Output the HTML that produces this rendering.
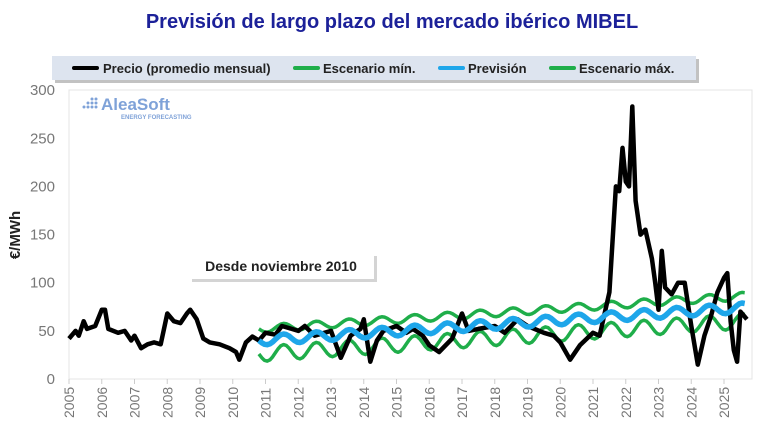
<!DOCTYPE html>
<html><head><meta charset="utf-8"><style>
body{margin:0;background:#fff;width:768px;height:421px;overflow:hidden;font-family:"Liberation Sans",sans-serif}
</style></head><body>
<svg id="s" width="768" height="421" xmlns="http://www.w3.org/2000/svg" font-family="Liberation Sans, sans-serif">
<text x="392" y="28" text-anchor="middle" font-size="20" font-weight="bold" fill="#1c2199">Previsión de largo plazo del mercado ibérico MIBEL</text>
<rect x="55" y="59" width="644" height="24" fill="#9a9a9a" opacity="0.6"/>
<rect x="52" y="56" width="644" height="24" fill="#dde4ef"/>
<g font-size="13" font-weight="bold" fill="#222">
<line x1="74" y1="68" x2="97" y2="68" stroke="#000" stroke-width="4" stroke-linecap="round"/><text x="103" y="73">Precio (promedio mensual)</text>
<line x1="295" y1="68" x2="318" y2="68" stroke="#1fae4a" stroke-width="4" stroke-linecap="round"/><text x="323" y="73">Escenario mín.</text>
<line x1="440" y1="68" x2="463" y2="68" stroke="#1ea6ea" stroke-width="4" stroke-linecap="round"/><text x="468" y="73">Previsión</text>
<line x1="551" y1="68" x2="574" y2="68" stroke="#1fae4a" stroke-width="4" stroke-linecap="round"/><text x="579" y="73">Escenario máx.</text>
</g>
<rect x="69" y="90" width="683" height="289" fill="none" stroke="#e4e4e4"/>
<g font-size="15" fill="#777" text-anchor="end" id="yt"></g>
<g font-size="14" fill="#777" id="xt"></g>
<text transform="translate(20,235) rotate(-90)" text-anchor="middle" font-size="15" font-weight="bold" fill="#222">€/MWh</text>
<g fill="#7fa2d8"><circle cx="84" cy="107" r="1.5"/><circle cx="88" cy="107" r="1.5"/><circle cx="92" cy="107" r="1.5"/><circle cx="88" cy="103" r="1.5"/><circle cx="92" cy="103" r="1.5"/><circle cx="92" cy="99" r="1.5"/><circle cx="96" cy="99" r="1.5"/><circle cx="96" cy="103" r="1.5"/><circle cx="96" cy="107" r="1.5"/></g>
<text x="101" y="110" font-size="17" font-weight="bold" fill="#7fa2d8">AleaSoft</text>
<text x="121" y="119" font-size="6" font-weight="bold" fill="#7fa2d8">ENERGY FORECASTING</text>
<g id="series"></g>
<rect x="192" y="256" width="185" height="26" fill="#aaa" opacity="0.5"/>
<rect x="189" y="253" width="185" height="26" fill="#fff"/>
<text x="281" y="271" text-anchor="middle" font-size="14" font-weight="bold" fill="#222">Desde noviembre 2010</text>
</svg>
<script>
const X=t=>69+(t-2005)*32.75, Y=v=>379-v*0.963;
const NS="http://www.w3.org/2000/svg";
const yt=document.getElementById('yt');
for(let v=0;v<=300;v+=50){const e=document.createElementNS(NS,'text');e.setAttribute('x',55);e.setAttribute('y',Y(v)+5);e.textContent=v;yt.appendChild(e);}
const xt=document.getElementById('xt');
for(let y=2005;y<=2025;y++){const x=X(y);const e=document.createElementNS(NS,'text');e.setAttribute('transform',`translate(${x+5},418) rotate(-90)`);e.textContent=y;xt.appendChild(e);
const l=document.createElementNS(NS,'line');l.setAttribute('x1',x);l.setAttribute('x2',x);l.setAttribute('y1',379);l.setAttribute('y2',384);l.setAttribute('stroke','#ccc');xt.appendChild(l);}
const P=[[2005,42],[2005.2,50],[2005.3,45],[2005.45,60],[2005.55,52],[2005.8,55],[2006,72],[2006.1,72],[2006.2,52],[2006.5,48],[2006.7,50],[2006.9,40],[2007,45],[2007.2,32],[2007.4,36],[2007.6,38],[2007.8,36],[2008,68],[2008.2,60],[2008.4,58],[2008.6,68],[2008.7,72],[2008.9,62],[2009.1,42],[2009.3,38],[2009.6,36],[2009.9,32],[2010.1,28],[2010.2,20],[2010.4,38],[2010.6,44],[2010.8,40],[2011,48],[2011.3,46],[2011.5,55],[2011.8,52],[2012,50],[2012.2,55],[2012.5,45],[2012.8,48],[2013,50],[2013.3,22],[2013.6,45],[2013.9,52],[2014,62],[2014.2,18],[2014.4,40],[2014.6,50],[2015,55],[2015.3,48],[2015.5,52],[2015.8,45],[2016,35],[2016.3,28],[2016.7,42],[2017,68],[2017.2,50],[2017.5,52],[2018,55],[2018.3,48],[2018.7,62],[2019,55],[2019.5,48],[2019.8,45],[2020,38],[2020.3,20],[2020.6,35],[2021,48],[2021.2,45],[2021.5,90],[2021.7,200],[2021.8,195],[2021.9,240],[2022,205],[2022.1,200],[2022.2,283],[2022.3,185],[2022.45,150],[2022.6,155],[2022.8,125],[2022.9,100],[2023,72],[2023.1,133],[2023.2,95],[2023.4,88],[2023.6,100],[2023.8,100],[2024,55],[2024.2,15],[2024.4,45],[2024.6,65],[2024.8,90],[2025,105],[2025.1,110],[2025.2,60],[2025.3,30],[2025.4,18],[2025.5,70],[2025.7,62]];
function line(pts,col,w){const p=document.createElementNS(NS,'polyline');p.setAttribute('points',pts.map(q=>X(q[0]).toFixed(1)+','+Y(q[1]).toFixed(1)).join(' '));p.setAttribute('fill','none');p.setAttribute('stroke',col);p.setAttribute('stroke-width',w);p.setAttribute('stroke-linejoin','round');document.getElementById('series').appendChild(p);}
const f=[],mn=[],mx=[];
for(let t=2010.8;t<=2025.7;t+=1/12){const b=40+(t-2010.8)*2.3,s=Math.sin(2*Math.PI*(t-2011.3));f.push([t,b+5*s]);mn.push([t,b-14+8*s]);mx.push([t,b+12+4*s]);}
line(mn,'#1fae4a',3.5);line(mx,'#1fae4a',3.5);line(P,'#000',4.5);line(f,'#1ea6ea',5.5);
</script>
</body></html>
